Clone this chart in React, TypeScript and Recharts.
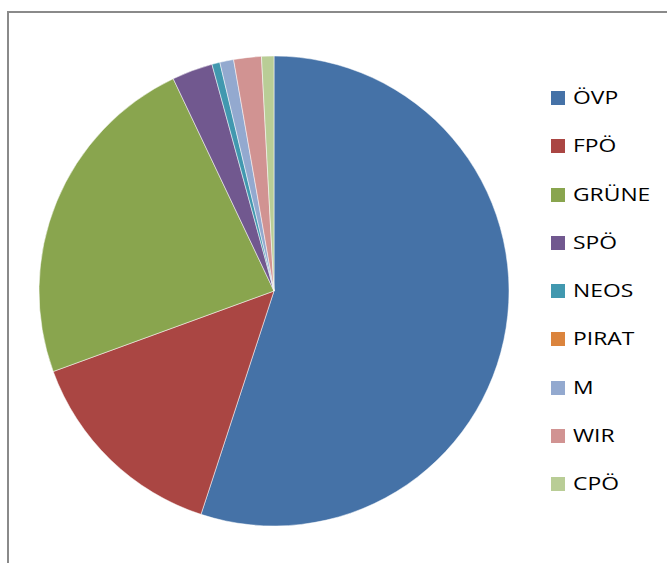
import React from 'react';
import { PieChart, Pie, Cell, Legend } from 'recharts';

const parties = ['ÖVP', 'FPÖ', 'GRÜNE', 'SPÖ', 'NEOS', 'PIRAT', 'M', 'WIR', 'CPÖ'];
const shares = [55.0, 14.4, 23.5, 2.8, 0.55, 0, 0.95, 1.9, 0.85];
const colors = ['#4572A7', '#AA4643', '#89A54E', '#71588F', '#4198AF', '#DB843D', '#93A9CF', '#D19392', '#B9CD96'];

const data = parties.map((name, i) => ({ name, value: shares[i] }));

const ROW_H = 48.3;

const renderLegend = () => (
  <div style={{ width: 110 }}>
    {parties.map((p, i) => (
      <div key={p} style={{ height: ROW_H, display: 'flex', alignItems: 'center' }}>
        <div style={{ width: 14, height: 14, background: colors[i], flex: 'none' }} />
        <div
          style={{
            marginLeft: 8,
            fontFamily: '"Open Sans", sans-serif',
            fontSize: 18,
            color: '#000',
            transform: 'scaleX(1.27)',
            transformOrigin: 'left center',
            position: 'relative',
            top: -1,
            whiteSpace: 'nowrap',
          }}
        >
          {p}
        </div>
      </div>
    ))}
  </div>
);

export default function App() {
  return (
    <div style={{ position: 'fixed', left: 0, top: 0, width: 667, height: 563, overflow: 'hidden', background: '#fff' }}>
      <div
        style={{
          position: 'absolute',
          left: 7,
          top: 11,
          width: 700,
          height: 600,
          border: '2px solid #8a8a8a',
          boxSizing: 'border-box',
        }}
      />
      <div style={{ position: 'absolute', left: 0, top: 0 }}>
        <PieChart width={667} height={563} margin={{ top: 0, right: 0, bottom: 0, left: 0 }}>
          <Pie
            data={data}
            dataKey="value"
            nameKey="name"
            cx={274}
            cy={291}
            outerRadius={235}
            startAngle={90}
            endAngle={-270}
            stroke="#ffffff"
            strokeWidth={0.5}
            isAnimationActive={false}
          >
            {data.map((d, i) => (
              <Cell key={d.name} fill={colors[i]} />
            ))}
          </Pie>
          <Legend
            content={renderLegend}
            wrapperStyle={{ position: 'absolute', left: 551, top: 98 - ROW_H / 2, width: 110 }}
          />
        </PieChart>
      </div>
    </div>
  );
}
